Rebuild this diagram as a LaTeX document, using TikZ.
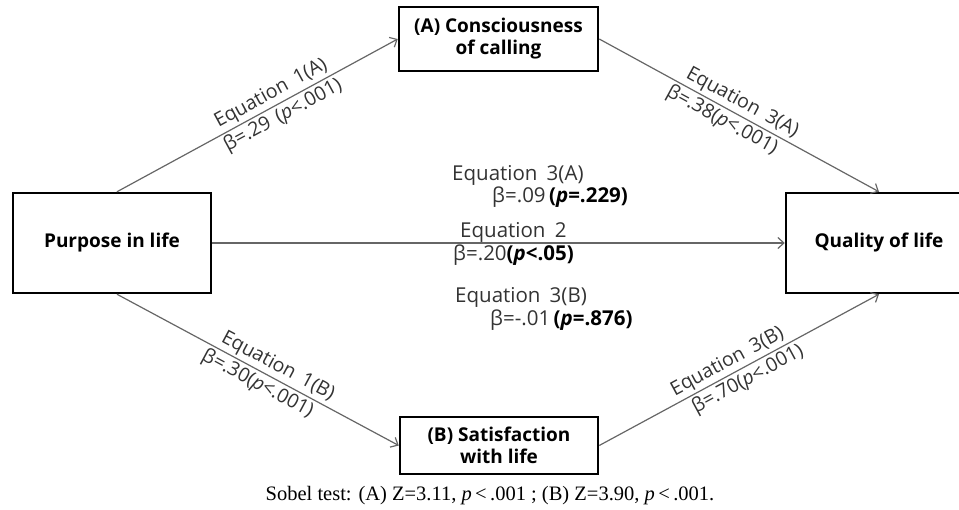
\documentclass[tikz,border=0pt]{standalone}
\usepackage{fontspec}
\setmainfont{Open Sans}
\newfontfamily\serifrm{Liberation Serif}
\usetikzlibrary{arrows.meta}
\definecolor{lncol}{HTML}{666666}
\definecolor{txcol}{HTML}{333333}
\begin{document}
\begin{tikzpicture}[x=1pt,y=-1pt,
  box/.style={draw=black,line width=2.5pt,fill=white,font=\fontsize{19}{22}\selectfont\bfseries,align=center,inner sep=0pt},
  conn/.style={draw=lncol,line width=1.2pt,-{Straight Barb[length=6pt,width=11pt,line width=1.2pt]}},
  eqlab/.style={font=\fontsize{19.5}{21}\selectfont,text=txcol,inner sep=2.2pt},
  midlab/.style={font=\fontsize{20.5}{22}\selectfont,text=txcol,anchor=west,inner sep=0pt}]
\useasboundingbox (0,0) rectangle (959,509);
\node[box,minimum width=198pt,minimum height=100pt] (pur) at (112,243) {Purpose in life};
\node[box,minimum width=199pt,minimum height=64pt] (con) at (498.5,39) {(A) Consciousness\\of calling};
\node[box,minimum width=198pt,minimum height=57pt] (sat) at (499,445.5) {(B) Satisfaction\\with life};
\node[box,minimum width=186pt,minimum height=100pt] (qol) at (879,243) {Quality of life};
\coordinate (purN) at ([xshift=5pt]pur.north);
\coordinate (purS) at ([xshift=5pt]pur.south);
\draw[conn] (purN) -- node[eqlab,sloped,above,pos=0.57]{Equation\hspace{0.45em}1(A)} node[eqlab,sloped,below,pos=0.57]{β=.29\hspace{0.4em}(\textit{p}<.001)} (con.west);
\draw[conn] (con.east) -- node[eqlab,sloped,above,pos=0.49]{Equation\hspace{0.45em}3(A)} node[eqlab,sloped,below,pos=0.46]{β=.38(\textit{p}<.001)} (qol.north);
\draw[conn] (purS) -- node[eqlab,sloped,above,pos=0.55]{Equation\hspace{0.45em}1(B)} node[eqlab,sloped,below,pos=0.52]{β=.30(\textit{p}<.001)} (sat.west);
\draw[conn] (sat.east) -- node[eqlab,sloped,above,pos=0.48]{Equation\hspace{0.45em}3(B)} node[eqlab,sloped,below,pos=0.51]{β=.70(\textit{p}<.001)} (qol.south);
\draw[conn] (pur.east) -- (qol.west);
\node[midlab] (m1) at (452,175) {Equation\hspace{0.45em}3(A)};
\node[midlab] (m2) at (492,197) {β=.09\,\textcolor{black}{\bfseries(\textit{p}=.229)}};
\node[midlab] (m3) at (460,232) {Equation\hspace{0.45em}2};
\node[midlab] (m4) at (453,255) {β=.20\textcolor{black}{\bfseries(\textit{p}<.05)}};
\node[midlab] (m5) at (455,297) {Equation\hspace{0.45em}3(B)};
\node[midlab] (m6) at (490,320) {β=-.01\,\textcolor{black}{\bfseries(\textit{p}=.876)}};
\node[font=\serifrm\fontsize{20.5}{24}\selectfont,inner sep=0pt] (sob) at (490,496) {Sobel test: (A) Z=3.11, \textit{p}\,<\,.001 ; (B) Z=3.90, \textit{p}\,<\,.001.};
\end{tikzpicture}
\end{document}
